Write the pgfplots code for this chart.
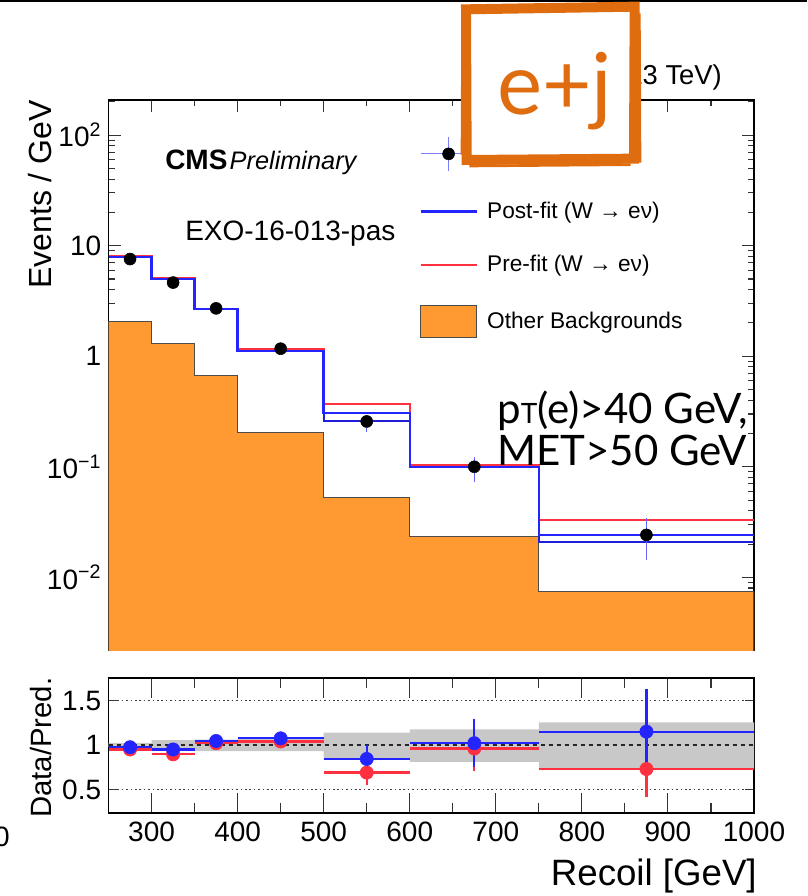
\documentclass[border=0pt]{standalone}
\usepackage{fontspec}
\setmainfont{Liberation Sans}
\newfontfamily\lato{Lato}
\usepackage{pgfplots}
\pgfplotsset{compat=1.18}
\definecolor{Cbkg}{HTML}{FF9A33}
\definecolor{Cblue}{HTML}{2424FF}
\definecolor{Cred}{HTML}{FF3040}
\definecolor{Cband}{HTML}{C8C8C8}
\definecolor{Ctag}{HTML}{E06C10}

\begin{document}
\begin{tikzpicture}
\useasboundingbox (0,0) rectangle (605.25pt,672pt);
% thin black rule on the top edge
\fill[black] (0,670.8pt) rectangle (605.25pt,672pt);

% ---------- main panel ----------
\begin{axis}[
  at={(81.4pt,184.5pt)}, anchor=south west,
  scale only axis, width=484.1pt, height=412.5pt,
  xmin=250, xmax=1000,
  ymode=log, ymin=0.0022, ymax=208,
  xtick={300,400,500,600,700,800,900,1000},
  minor xtick={250,350,450,550,650,750,850,950},
  xticklabels={},
  ytick={0.01,0.1,1,10,100},
  yticklabels={10\textsuperscript{−2},10\textsuperscript{−1},1,10,10\textsuperscript{2}},
  minor ytick={0.003,0.004,0.005,0.006,0.007,0.008,0.009,
    0.02,0.03,0.04,0.05,0.06,0.07,0.08,0.09,
    0.2,0.3,0.4,0.5,0.6,0.7,0.8,0.9,
    2,3,4,5,6,7,8,9,20,30,40,50,60,70,80,90,200},
  tick align=inside,
  major tick length=9pt, minor tick length=4.5pt,
  every tick/.style={black!80, line width=0.8pt},
  axis line style={line width=1pt},
  yticklabel style={font=\fontsize{21}{21}\selectfont, xshift=-2pt},
  legend style={draw=none, fill=none, at={(0.475,0.94)}, anchor=north west,
    font=\fontsize{17}{20}\selectfont, row sep=20pt,
    nodes={inner sep=3pt}},
  legend cell align=left,
  legend image code/.code={\draw[#1] (0pt,0pt) -- (42pt,0pt); \path (46pt,0pt);},
]
% other backgrounds (filled histogram)
\addplot[fill=Cbkg, draw=black!70, line width=0.8pt, forget plot] coordinates {
  (250,0.0001) (250,2.08) (300,2.08) (300,1.30) (350,1.30) (350,0.672)
  (400,0.672) (400,0.204) (500,0.204) (500,0.0523) (600,0.0523)
  (600,0.0236) (750,0.0236) (750,0.0074) (1000,0.0074) (1000,0.0001)
};
% pre-fit W -> e nu
\addplot[const plot, Cred, line width=1.8pt, forget plot] coordinates {
  (250,8.06) (300,5.08) (350,2.69) (400,1.15) (500,0.369)
  (600,0.104) (750,0.0331) (1000,0.0331)
};
% post-fit W -> e nu (two curves)
\addplot[const plot, Cblue!85!black, line width=1.5pt, forget plot] coordinates {
  (250,7.94) (300,4.98) (350,2.66) (400,1.11) (500,0.257)
  (600,0.100) (750,0.0208) (1000,0.0208)
};
\addplot[const plot, Cblue, line width=1.8pt, forget plot] coordinates {
  (250,7.94) (300,4.98) (350,2.66) (400,1.11) (500,0.305)
  (600,0.100) (750,0.0242) (1000,0.0242)
};
% data
\addplot[only marks, mark=*, mark size=4.5pt, black, forget plot,
  error bars/.cd, y dir=both, y explicit,
  error bar style={Cblue!70, line width=0.9pt}, error mark=none]
  coordinates {
  (275,7.57) += (0,0.30) -= (0,0.30)
  (325,4.64) += (0,0.22) -= (0,0.22)
  (375,2.71) += (0,0.16) -= (0,0.16)
  (450,1.17) += (0,0.07) -= (0,0.07)
  (550,0.257) += (0,0.028) -= (0,0.049)
  (675,0.100) += (0,0.023) -= (0,0.0265)
  (875,0.0242) += (0,0.010) -= (0,0.0098)
};
\addlegendimage{legend image code/.code={
  \draw[Cblue!60, line width=0.9pt] (0pt,0pt) -- (42pt,0pt) (21pt,-13pt) -- (21pt,13pt);
  \fill[black] (21pt,0pt) circle (4.5pt); \path (46pt,0pt);}}
\addlegendentry{Data}
\addlegendimage{Cblue, line width=1.8pt}
\addlegendentry{Post-fit (W → eν)}
\addlegendimage{Cred, line width=1.8pt}
\addlegendentry{Pre-fit (W → eν)}
\addlegendimage{legend image code/.code={
  \draw[fill=Cbkg, draw=black!70, line width=0.8pt] (0pt,-12pt) rectangle (42pt,12pt);
  \path (46pt,0pt);}}
\addlegendentry{Other Backgrounds}
\end{axis}

% ---------- ratio panel ----------
\begin{axis}[
  at={(81.4pt,62.25pt)}, anchor=south west,
  scale only axis, width=484.1pt, height=101.25pt,
  xmin=250, xmax=1000, ymin=0.236, ymax=1.753,
  xtick={300,400,500,600,700,800,900,1000},
  xticklabels={300,400,500,600,700,800,900,1000},
  minor xtick={250,350,450,550,650,750,850,950},
  ytick={0.5,1,1.5}, yticklabels={0.5,1,1.5},
  tick align=inside,
  major tick length=15pt, minor tick length=7.5pt,
  ytick style={/pgfplots/major tick length=7pt},
  every tick/.style={black!80, line width=0.8pt},
  axis line style={line width=1pt},
  ticklabel style={font=\fontsize{21}{21}\selectfont},
  yticklabel style={xshift=-2pt},
  xticklabel style={yshift=-3pt},
]
% uncertainty band
\addplot[fill=Cband, draw=none] coordinates {
  (250,0.975) (300,0.975) (300,0.945) (350,0.945) (350,0.93) (400,0.93)
  (500,0.93) (500,0.84) (600,0.84) (600,0.81) (750,0.81) (750,0.73)
  (1000,0.73) (1000,1.255) (750,1.255) (750,1.175) (600,1.175)
  (600,1.14) (500,1.14) (500,1.09) (400,1.09) (400,1.06) (350,1.06)
  (350,1.055) (300,1.055) (300,1.025) (250,1.025)
} -- cycle;
% reference lines
\addplot[black!75, line width=1.3pt, dotted] coordinates {(250,0.5) (1000,0.5)};
\addplot[black!75, line width=1.3pt, dotted] coordinates {(250,1.5) (1000,1.5)};
\addplot[black!85, line width=1.7pt, dashed] coordinates {(250,1) (1000,1)};
% pre-fit ratio
\addplot[only marks, mark=*, mark size=5pt, Cred,
  error bars/.cd, x dir=both, x explicit, y dir=both, y explicit,
  error bar style={Cred, line width=1.7pt}, error mark=none]
  coordinates {
  (275,0.950) +- (25,0.035)
  (325,0.895) +- (25,0.040)
  (375,1.020) +- (25,0.060)
  (450,1.040) +- (50,0.070)
  (550,0.690) +- (50,0.140)
  (675,0.960) +- (75,0.250)
  (875,0.730) +- (125,0.310)
};
% post-fit ratio
\addplot[only marks, mark=*, mark size=5pt, Cblue,
  error bars/.cd, x dir=both, x explicit, y dir=both, y explicit,
  error bar style={Cblue, line width=1.7pt}, error mark=none]
  coordinates {
  (275,0.975) +- (25,0.035)
  (325,0.950) +- (25,0.040)
  (375,1.045) +- (25,0.065)
  (450,1.075) +- (50,0.075)
  (550,0.843) +- (50,0.160)
  (675,1.020) +- (75,0.270)
  (875,1.150) +- (125,0.475)
};
\end{axis}

% ---------- labels ----------
\node[rotate=90, anchor=base east, inner sep=0pt, font=\fontsize{24}{24}\selectfont]
  at (38.5pt,597pt) {Events / GeV};
\node[rotate=90, anchor=base east, inner sep=0pt, font=\fontsize{22}{22}\selectfont]
  at (39pt,164pt) {Data/Pred.};
\node[anchor=base east, inner sep=0pt, font=\fontsize{27.5}{27.5}\selectfont]
  at (567.75pt,8pt) {Recoil [GeV]};
\node[anchor=base east, inner sep=0pt, font=\fontsize{21}{21}\selectfont]
  at (7.5pt,37pt) {0};
\node[anchor=base west, inner sep=0pt] at (123.75pt,544.5pt)
  {{\fontsize{21}{21}\selectfont\bfseries CMS}\,{\fontsize{19}{19}\selectfont\itshape Preliminary}};
\node[anchor=base west, inner sep=0pt, font=\fontsize{21}{21}\selectfont]
  at (138.75pt,491.25pt) {EXO-16-013-pas};
\node[anchor=base east, inner sep=0pt, font=\fontsize{20.5}{20.5}\selectfont]
  at (541.5pt,608.25pt) {2.3 fb\textsuperscript{−1} (13 TeV)};
\node[anchor=base west, inner sep=0pt, font=\lato\fontsize{31.5}{31.5}\selectfont]
  at (372.75pt,354pt) {p{\fontsize{21}{21}\selectfont T}(e)>40 GeV,};
\node[anchor=base west, inner sep=0pt, font=\lato\fontsize{31.5}{31.5}\selectfont]
  at (372.75pt,322.5pt) {MET>50 GeV};

% ---------- e+j tag ----------
\draw[Ctag, fill=white, line width=7.5pt, line join=miter]
  (349.5pt,665pt) -- (476pt,667pt) -- (475.5pt,553pt) -- (350pt,552pt) -- cycle;
\draw[Ctag, line width=2pt] (347pt,660pt) -- (346.5pt,556pt)
  (479.5pt,662pt) -- (480pt,550pt) (352pt,547.5pt) -- (473pt,548.5pt);
\node[anchor=base west, inner sep=0pt, text=Ctag, font=\lato\fontsize{64}{64}\selectfont]
  at (372.75pt,585.75pt) {e+j};
\end{tikzpicture}
\end{document}
